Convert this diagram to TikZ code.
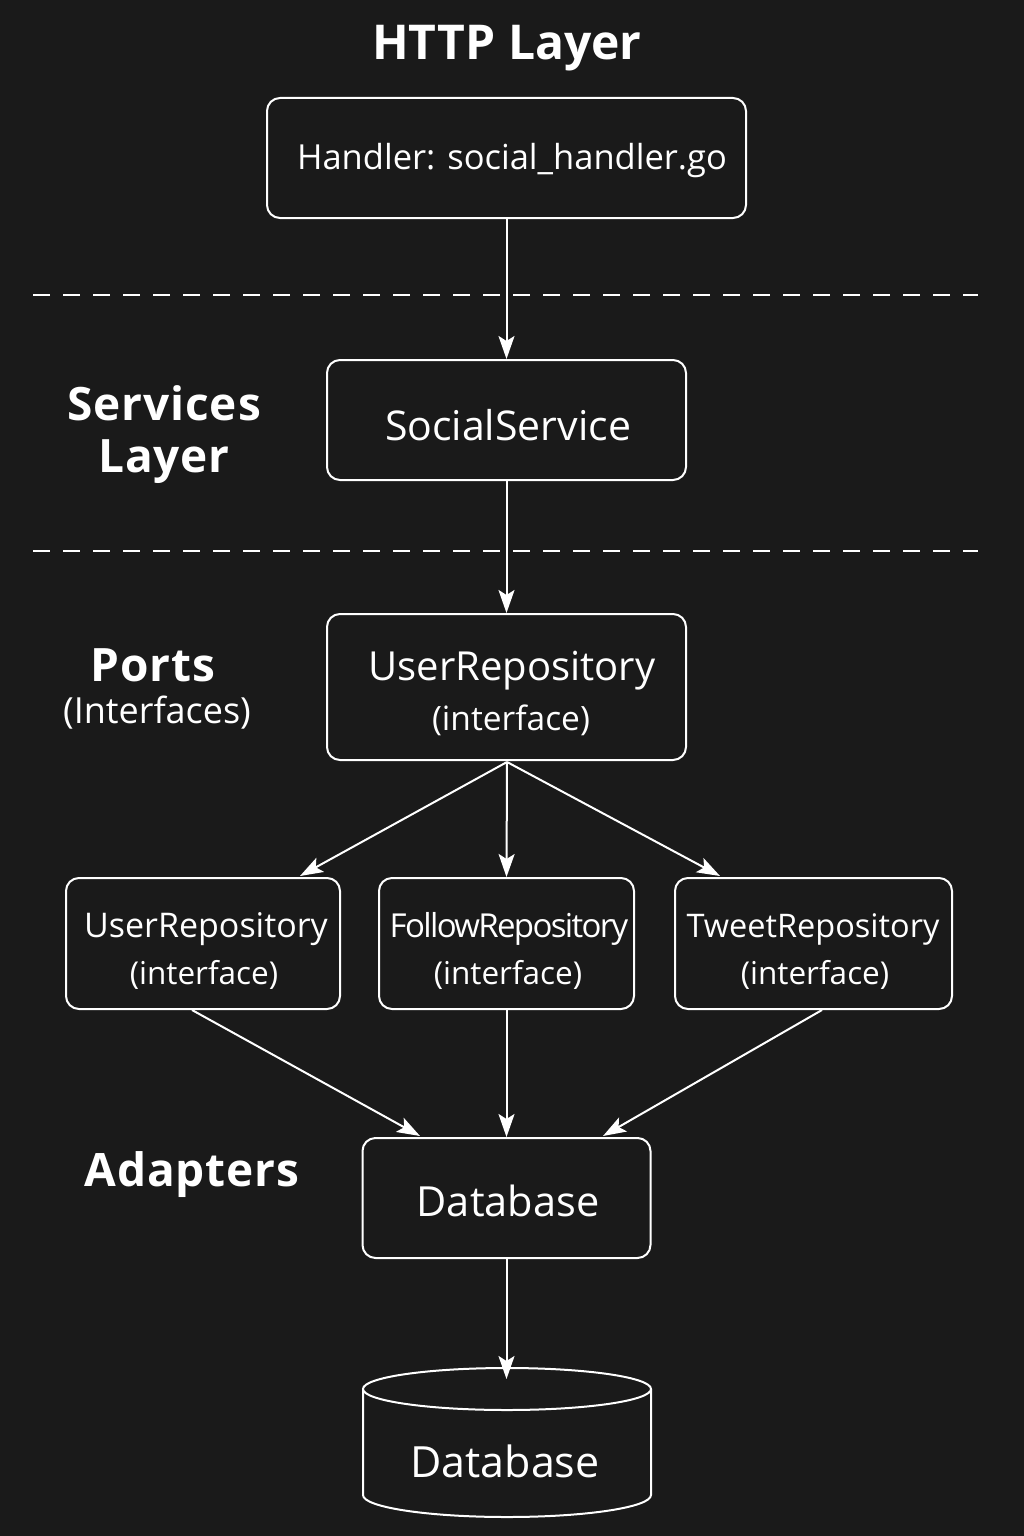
\documentclass[tikz,border=0pt]{standalone}
\usepackage{fontspec}
\setmainfont{Open Sans}
\usetikzlibrary{arrows.meta}
\definecolor{bg}{HTML}{1A1A1A}
\tikzset{
  box/.style={draw=white, line width=2pt, rounded corners=13pt, fill=bg, inner sep=0pt},
  arr/.style={draw=white, line width=2pt, -{Stealth[length=23pt,width=16pt,inset=5pt]}},
  sep/.style={draw=white, line width=2pt, dash pattern=on 17pt off 13pt},
  txt/.style={text=white, align=center, inner sep=0pt, yshift=-3pt},
  head/.style={txt, font=\bfseries\fontsize{46}{52}\selectfont\addfontfeature{LetterSpace=2}},
}
\begin{document}
\begin{tikzpicture}[x=1pt,y=-1pt]
\fill[bg] (0,0) rectangle (1024,1536);
\useasboundingbox (0,0) rectangle (1024,1536);
% separators
\coordinate (s1a) at (33,295); \coordinate (s1b) at (978,295);
\coordinate (s2a) at (33,551); \coordinate (s2b) at (978,551);
\draw[sep] (s1a) -- (s1b);
\draw[sep] (s2a) -- (s2b);
% layer labels
\node[txt, font=\bfseries\fontsize{48}{52}\selectfont] (lhttp) at (507,45) {HTTP Layer};
\node[head] (lsvc) at (164,432) {Services\\Layer};
\node[head] (lports) at (153,662) {Ports};
\node[txt, font=\fontsize{36}{40}\selectfont] (lports2) at (157,710) {(Interfaces)};
\node[head] (ladapt) at (192,1172) {Adapters};
% boxes
\node[box, minimum width=479pt, minimum height=120pt] (handler) at (506.5,158) {};
\node[txt, font=\fontsize{34.5}{40}\selectfont] (handlert) at (512,158) {Handler: social\_handler.go};
\node[box, minimum width=359pt, minimum height=120pt] (svc) at (506.5,420) {};
\node[txt, font=\fontsize{41}{44}\selectfont] (svct) at (508,422) {SocialService};
\node[box, minimum width=359pt, minimum height=146pt] (port) at (506.5,687) {};
\node[txt, font=\fontsize{40}{44}\selectfont] (portt) at (512,668) {UserRepository};
\node[txt, font=\fontsize{33.5}{40}\selectfont] (portt2) at (511,717) {(interface)};
\node[box, minimum width=274pt, minimum height=131pt] (ur) at (203,943.5) {};
\node[txt, font=\fontsize{34}{40}\selectfont] (urt) at (206,926) {UserRepository};
\node[txt, font=\fontsize{31.5}{40}\selectfont] (urt2) at (204,972) {(interface)};
\node[box, minimum width=255pt, minimum height=131pt] (fr) at (506.5,943.5) {};
\node[txt, font=\fontsize{33}{40}\selectfont] (frt) at (509,926) {\addfontfeature{LetterSpace=-5}FollowRepository};
\node[txt, font=\fontsize{31.5}{40}\selectfont] (frt2) at (508,972) {(interface)};
\node[box, minimum width=277pt, minimum height=131pt] (tr) at (813.5,943.5) {};
\node[txt, font=\fontsize{32.5}{40}\selectfont] (trt) at (813,926) {TweetRepository};
\node[txt, font=\fontsize{31.5}{40}\selectfont] (trt2) at (815,972) {(interface)};
\node[box, minimum width=288pt, minimum height=120pt] (dbad) at (506.5,1198) {};
\node[txt, font=\fontsize{41.5}{46}\selectfont] (dbadt) at (508,1198) {Database};
% cylinder
\draw[white, line width=2pt, fill=bg] (363,1389) -- (363,1495) arc[start angle=180, end angle=360, x radius=144pt, y radius=22pt] -- (651,1389);
\draw[white, line width=2pt, fill=bg] (507,1389) ellipse[x radius=144pt, y radius=21pt];
\node[txt, font=\fontsize{43}{46}\selectfont] (db) at (505,1458) {Database};
\coordinate (dbtop) at (506.5,1379);
% connectors
\draw[arr] (handler.south) -- (svc.north);
\draw[arr] (svc.south) -- (port.north);
\coordinate (pfan) at (507,762);
\draw[arr] (pfan) -- (300,876);
\draw[arr] (pfan) -- (fr.north);
\draw[arr] (pfan) -- (720,876);
\coordinate (urb) at (192,1010);
\coordinate (trb) at (822,1010);
\draw[arr] (urb) -- (420,1136);
\draw[arr] (fr.south) -- (dbad.north -| fr.south);
\draw[arr] (trb) -- (603,1136);
\draw[arr] (dbad.south) -- (dbtop);
\end{tikzpicture}
\end{document}
